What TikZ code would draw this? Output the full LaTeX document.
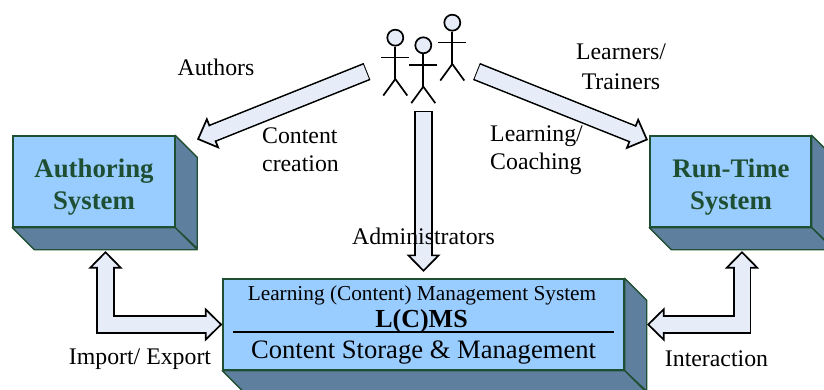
\documentclass[tikz,border=0pt]{standalone}
\usepackage{fontspec}
\setmainfont{Liberation Serif}
\usetikzlibrary{arrows.meta}
\definecolor{boxfront}{HTML}{99CCFF}
\definecolor{boxside}{HTML}{5F7F9F}
\definecolor{boxedge}{HTML}{1F4F33}
\definecolor{arrowfill}{HTML}{E6EDF8}
\tikzset{
    frontbox/.style={draw=boxedge,fill=boxfront,line width=1.4pt,minimum height=91pt,inner sep=0pt},
    sideface/.style={draw=boxedge,fill=boxside,line width=1.4pt,line join=round},
    boxtitle/.style={text=boxedge,font=\fontsize{26.8}{32}\selectfont\bfseries,align=center},
    caption/.style={font=\fontsize{23.8}{28}\selectfont,align=center,inner sep=0pt},
    blockline/.style={line width=1.7pt,double=arrowfill,double distance=15pt,line join=miter},
    blockcover/.style={draw=arrowfill,line width=15pt},
    bigtip/.tip={Triangle[length=17.5pt,width=34pt,line width=1.7pt,fill=arrowfill]},
    tailtip/.style={{Bar[width=18.4pt,line width=1.7pt]}-bigtip},
    bothtips/.style={bigtip-bigtip},
    stickline/.style={line width=1.7pt}
}
\begin{document}
\begin{tikzpicture}[x=1pt,y=1pt]
        \clip (0,0) rectangle (824,389);
        \node[frontbox,minimum width=161.5pt] (auth) at (93.75,207.5) {};
        \node[frontbox,minimum width=161pt] (run) at (730.5,207.5) {};
        \node[frontbox,minimum width=401pt] (lms) at (423.5,64.5) {};
        \foreach \b in {auth,run,lms} {
            \draw[sideface] (\b.north east) -- ++(22,-22) -- ++(0,-91) -- (\b.south east) -- cycle;
            \draw[sideface] (\b.south west) -- ++(22,-22) -- ([shift={(22pt,-22pt)}]\b.south east) -- (\b.south east) -- cycle;
        }
        \node[boxtitle] (authtitle) at (94,202) {Authoring\\System};
        \node[boxtitle] (runtitle) at (731,202) {Run-Time\\System};
        \node[font=\fontsize{21.3}{24}\selectfont,inner sep=0pt] (lmsname) at (422,94) {Learning (Content) Management System};
        \node[font=\fontsize{26}{30}\selectfont\bfseries,inner sep=0pt] (lmsshort) at (421.5,68) {L(C)MS};
        \node[font=\fontsize{26.6}{30}\selectfont,inner sep=0pt] (lmsstore) at (423.5,36) {Content Storage \& Management};
        \draw[line width=1.4pt] ([xshift=11pt,yshift=-7.5pt]lms.west) -- ([xshift=-11pt,yshift=-7.5pt]lms.east);

        \foreach \x/\y [count=\i] in {395.3/351.3,423.3/343.7,452.3/366.3} {
            \node[circle,draw,stickline,fill=arrowfill,minimum size=16pt,inner sep=0pt] (head\i) at (\x,\y) {};
            \draw[stickline] (head\i.south) -- ++(0,-32.5) coordinate (hip\i);
            \draw[stickline] (hip\i) -- ++(-12,-16.5);
            \draw[stickline] (hip\i) -- ++(12,-16.5);
            \draw[stickline] ([xshift=-14pt,yshift=-11pt]head\i.south) -- ([xshift=14pt,yshift=-11pt]head\i.south);
        }

        \coordinate (leftstart) at (367,317.5);
        \coordinate (leftend) at (197,249.5);
        \coordinate (rightstart) at (476.5,317.5);
        \coordinate (rightend) at (648,249);
        \coordinate (midstart) at (423.5,278.3);
        \coordinate (midend) at (423.5,117);
        \coordinate (authport) at (105.5,138);
        \coordinate (runport) at (742,138);
        \coordinate (lmsport) at (647,64.5);

        \draw[blockline,tailtip] (leftstart) -- (leftend);
        \draw[blockline,tailtip] (rightstart) -- (rightend);
        \draw[blockline,tailtip] (midstart) -- (midend);
        \draw[blockline,bothtips] (lms.west) -| (authport);
        \draw[blockline,bothtips] (lmsport) -| (runport);
        \draw[blockcover,shorten >=15pt,shorten <=1pt] (leftstart) -- (leftend);
        \draw[blockcover,shorten >=15pt,shorten <=1pt] (rightstart) -- (rightend);
        \draw[blockcover,shorten >=15pt,shorten <=1pt] (midstart) -- (midend);
        \draw[blockcover,shorten >=15pt,shorten <=15pt] (lms.west) -| (authport);
        \draw[blockcover,shorten >=15pt,shorten <=15pt] (lmsport) -| (runport);

        \node[caption] (authors) at (216,322) {Authors};
        \node[caption,align=left] (creation) at (300.5,239) {Content\\creation};
        \node[caption,font=\fontsize{23.8}{30}\selectfont] (learners) at (621,322) {Learners/\\Trainers};
        \node[caption,align=left] (coaching) at (536.5,239) {Learning/\\Coaching};
        \node[caption] (admins) at (423.5,153) {Administrators};
        \node[caption] (transfer) at (140,30) {Import/ Export};
        \node[caption] (interact) at (716.5,30) {Interaction};
    \end{tikzpicture}
\end{document}
